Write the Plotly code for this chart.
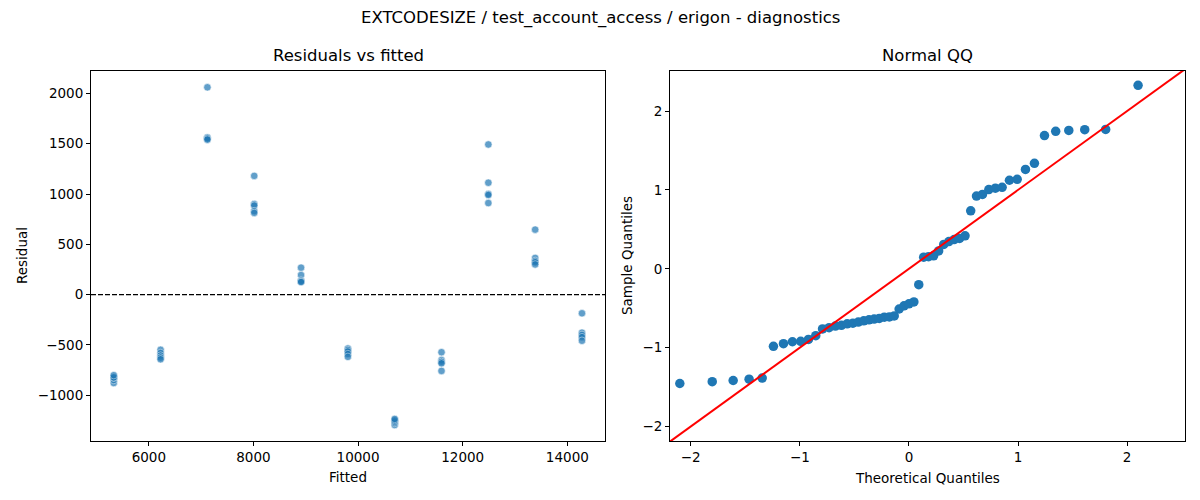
import plotly.graph_objects as go
from plotly.subplots import make_subplots

# Residuals vs fitted: 11 fitted levels, 5 runs each
fitted_levels = [5330, 6225, 7120, 8015, 8910, 9805, 10700, 11595, 12490, 13385, 14280]
residuals_by_level = [
    [-878, -848, -826, -822, -800],      # 5330
    [-548, -580, -605, -625, -642],      # 6225
    [2060, 1562, 1558, 1550, 1540],      # 7120
    [1180, 900, 885, 830, 812],          # 8015
    [268, 195, 140, 130, 125],           # 8910
    [-535, -550, -565, -590, -618],      # 9805
    [-1295, -1275, -1262, -1248, -1235], # 10700
    [-572, -650, -668, -682, -758],      # 11595
    [1492, 1112, 1000, 990, 910],        # 12490
    [646, 365, 335, 322, 300],           # 13385
    [-185, -378, -400, -422, -458],      # 14280
]

# Normal QQ panel (theoretical vs sample quantiles)
theoretical_q = [
    -2.100, -1.803, -1.611, -1.465, -1.345, -1.242, -1.150, -1.068, -0.992, -0.921,
    -0.854, -0.792, -0.732, -0.674, -0.619, -0.566, -0.514, -0.464, -0.414, -0.366,
    -0.319, -0.272, -0.226, -0.180, -0.135, -0.090, -0.045, 0.000, 0.045, 0.090,
    0.135, 0.180, 0.226, 0.272, 0.319, 0.366, 0.414, 0.464, 0.514, 0.566,
    0.619, 0.674, 0.732, 0.792, 0.854, 0.921, 0.992, 1.068, 1.150, 1.242,
    1.345, 1.465, 1.611, 1.803, 2.100,
]
sample_q = [
    -1.454, -1.431, -1.416, -1.400, -1.386, -0.983, -0.950, -0.925, -0.920, -0.895,
    -0.848, -0.762, -0.747, -0.726, -0.717, -0.698, -0.690, -0.676, -0.659, -0.647,
    -0.638, -0.630, -0.614, -0.611, -0.597, -0.510, -0.469, -0.444, -0.420, -0.202,
    0.147, 0.153, 0.164, 0.226, 0.309, 0.345, 0.370, 0.384, 0.418, 0.735,
    0.922, 0.942, 1.004, 1.021, 1.032, 1.122, 1.134, 1.260, 1.337, 1.688,
    1.743, 1.754, 1.763, 1.767, 2.325,
]

TITLE = "EXTCODESIZE / test_account_access / erigon - diagnostics"
BLUE = "#1f77b4"
FONT = "DejaVu Sans"

# the page body has an 8px margin, so lay things out on a 1192x492 canvas
# and convert reference pixel positions with that offset
W, H, OFF = 1192, 492, 8


def px_x(p):
    return (p - OFF) / W


def px_y(p):
    return 1 - (p - OFF) / H


# flatten groups into point lists
fitted_pts = []
resid_pts = []
for lvl, res in zip(fitted_levels, residuals_by_level):
    fitted_pts += [lvl] * len(res)
    resid_pts += res

left_xrange = [4895, 14720]
left_yrange = [-1454, 2222]
qq_xrange = [-2.19, 2.53]
qq_yrange = [-2.183, 2.507]
# 45 degree reference line spanning both axes
ref_line = [min(qq_xrange[0], qq_yrange[0]) - 0.2, max(qq_xrange[1], qq_yrange[1]) + 0.2]

fig = make_subplots(rows=1, cols=2)

fig.add_trace(go.Scatter(
    x=fitted_pts, y=resid_pts, mode="markers",
    marker=dict(color=BLUE, size=7.5, opacity=0.7, line=dict(color="white", width=0.6)),
    showlegend=False,
), row=1, col=1)

fig.add_hline(y=0, line=dict(color="black", width=1.2, dash="5px,2px"), row=1, col=1)

fig.add_trace(go.Scatter(
    x=theoretical_q, y=sample_q, mode="markers",
    marker=dict(color=BLUE, size=9.5, line=dict(width=0)),
    showlegend=False,
), row=1, col=2)

fig.add_trace(go.Scatter(
    x=ref_line, y=ref_line, mode="lines",
    line=dict(color="red", width=2),
    showlegend=False, hoverinfo="skip",
), row=1, col=2)

axis_style = dict(
    showline=True, mirror=True, linecolor="black", linewidth=1,
    ticks="outside", ticklen=4, tickwidth=1, tickcolor="black",
    showgrid=False, zeroline=False,
    tickfont=dict(family=FONT, size=13.5, color="black"),
)

fig.update_xaxes(axis_style)
fig.update_yaxes(axis_style)

plot_rows = [px_y(441), px_y(71)]
fig.update_layout(
    xaxis=dict(domain=[px_x(91), px_x(605)], range=left_xrange, dtick=2000, tick0=0, tickformat="d"),
    yaxis=dict(domain=plot_rows, range=left_yrange, dtick=500, tick0=0, tickformat="d"),
    xaxis2=dict(domain=[px_x(670), px_x(1185)], range=qq_xrange, dtick=1, tick0=0),
    yaxis2=dict(domain=plot_rows, range=qq_yrange, dtick=1, tick0=0),
    width=W, height=H,
    margin=dict(l=0, r=0, t=0, b=0),
    paper_bgcolor="white", plot_bgcolor="white",
    font=dict(family=FONT, color="black"),
)

# titles and axis labels, given as reference pixel centres
labels = [
    (TITLE, 600, 18, 16.5, 0),
    ("Residuals vs fitted", 348, 56, 16.5, 0),
    ("Normal QQ", 927, 56, 16.5, 0),
    ("Fitted", 348, 477, 13.5, 0),
    ("Theoretical Quantiles", 927, 478, 13.5, 0),
    ("Residual", 22, 256, 13.5, -90),
    ("Sample Quantiles", 627, 256, 13.5, -90),
]
for text, lx, ly, size, angle in labels:
    fig.add_annotation(
        text=text, x=px_x(lx), y=px_y(ly), xref="paper", yref="paper",
        xanchor="center", yanchor="middle", showarrow=False, textangle=angle,
        font=dict(family=FONT, size=size, color="black"),
    )

fig.write_html("out.html")
